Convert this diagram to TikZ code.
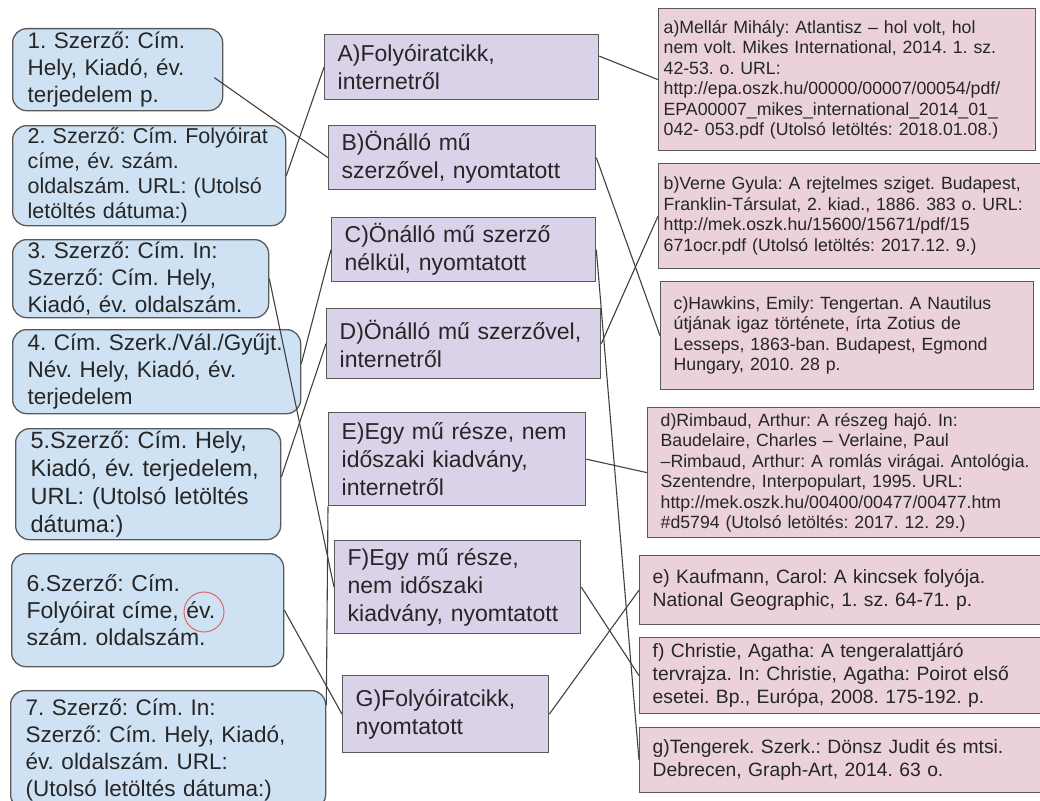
\documentclass[tikz,border=0pt]{standalone}
\usepackage{fontspec}
\setmainfont{Liberation Sans}
\usepackage{xcolor}
\usepackage{tikz}
\definecolor{srcBlue}{HTML}{CFE2F3}
\definecolor{kindPurple}{HTML}{D9D2E9}
\definecolor{refPink}{HTML}{EAD1DC}
\definecolor{edgeGray}{HTML}{595959}
\definecolor{lineGray}{HTML}{404040}
\definecolor{ringRed}{HTML}{E06666}
\frenchspacing
\hyphenpenalty=10000
\exhyphenpenalty=10000

\begin{document}
\begin{tikzpicture}[x=1pt,y=-1pt,semithick]
  \tikzstyle{box}=[anchor=north west,draw=edgeGray,line width=1.3pt,align=left,inner ysep=0pt,text=black!85]
  \tikzstyle{src}=[box,fill=srcBlue,rounded corners=14pt,inner xsep=15pt,font=\fontsize{22.5}{27}\selectfont]
  \tikzstyle{kind}=[box,fill=kindPurple,inner xsep=13pt,font=\fontsize{23}{28}\selectfont]
  \tikzstyle{ref}=[box,fill=refPink,inner xsep=13pt,font=\fontsize{17.7}{20.5}\selectfont]
  \tikzstyle{link}=[draw=lineGray,line width=1.1pt]
  \tikzstyle{ring}=[circle,draw=ringRed,line width=1pt,minimum size=40pt,inner sep=0pt]

  \useasboundingbox (0,0) rectangle (1040,800);

  % citation patterns
  \node[src, text width=180pt, minimum height=82pt]  (1) at (12,28)  {1. Szerző: Cím.\\Hely, Kiadó, év.\\terjedelem p.};
  \node[src, text width=243pt, minimum height=100pt, font=\fontsize{21.5}{25}\selectfont] (2) at (12,125) {2. Szerző: Cím. Folyóirat\\címe, év. szám.\\oldalszám. URL: (Utolsó\\letöltés dátuma:)};
  \node[src, text width=226pt, minimum height=78pt]  (3) at (12,239) {3. Szerző: Cím. In:\\Szerző: Cím. Hely,\\Kiadó, év. oldalszám.};
  \node[src, text width=258pt, minimum height=84pt]  (4) at (12,329) {4. Cím. Szerk./Vál./Gyűjt.\\Név. Hely, Kiadó, év.\\terjedelem};
  \node[src, text width=235pt, minimum height=111pt, font=\fontsize{23.5}{28}\selectfont] (5) at (15,428) {5.Szerző: Cím. Hely,\\Kiadó, év. terjedelem,\\URL: (Utolsó letöltés\\dátuma:)};
  \node[src, text width=242pt, minimum height=113pt, font=\fontsize{23}{27}\selectfont] (6) at (11,553) {6.Szerző: Cím.\\Folyóirat címe, év.\\szám. oldalszám.};
  \node[src, text width=285pt, minimum height=118pt] (7) at (10,690) {7. Szerző: Cím. In:\\Szerző: Cím. Hely, Kiadó,\\év. oldalszám. URL:\\(Utolsó letöltés dátuma:)};

  \node[ring] (ring) at (204,612) {};

  % document types
  \node[kind, text width=248pt, minimum height=65pt] (A) at (324,34)  {A)Folyóiratcikk,\\internetről};
  \node[kind, text width=241pt, minimum height=64pt] (B) at (328,125) {B)Önálló mű\\szerzővel, nyomtatott};
  \node[kind, text width=238pt, minimum height=64pt] (C) at (331,217) {C)Önálló mű szerző\\nélkül, nyomtatott};
  \node[kind, text width=248pt, minimum height=70pt] (D) at (326,308) {D)Önálló mű szerzővel,\\internetről};
  \node[kind, text width=231pt, minimum height=93pt] (E) at (328,412) {E)Egy mű része, nem\\időszaki kiadvány,\\internetről};
  \node[kind, text width=220pt, minimum height=93pt] (F) at (334,540) {F)Egy mű része,\\nem időszaki\\kiadvány, nyomtatott};
  \node[kind, text width=180pt, minimum height=77pt] (G) at (342,675) {G)Folyóiratcikk,\\nyomtatott};

  % examples
  \node[ref, inner xsep=5pt, text width=367pt, minimum height=142pt] (a) at (658,8) {a)Mellár Mihály: Atlantisz -- hol volt, hol\\nem volt. Mikes International, 2014. 1. sz.\\42-53. o. URL:\\http://epa.oszk.hu/00000/00007/00054/pdf/\\EPA00007\_mikes\_international\_2014\_01\_\\042- 053.pdf (Utolsó letöltés: 2018.01.08.)};
  \node[ref, inner xsep=5pt, text width=374pt, minimum height=105pt] (b) at (658,163) {b)Verne Gyula: A rejtelmes sziget. Budapest,\\Franklin-Társulat, 2. kiad., 1886. 383 o. URL:\\http://mek.oszk.hu/15600/15671/pdf/15\\671ocr.pdf (Utolsó letöltés: 2017.12. 9.)};
  \node[ref, text width=347pt, minimum height=108pt] (c) at (660,281) {c)Hawkins, Emily: Tengertan. A Nautilus\\útjának igaz története, írta Zotius de\\Lesseps, 1863-ban. Budapest, Egmond\\Hungary, 2010. 28 p.};
  \node[ref, text width=374pt, minimum height=130pt] (d) at (647,407) {d)Rimbaud, Arthur: A részeg hajó. In:\\Baudelaire, Charles -- Verlaine, Paul\\--Rimbaud, Arthur: A romlás virágai. Antológia.\\Szentendre, Interpopulart, 1995. URL:\\http://mek.oszk.hu/00400/00477/00477.htm\\\#d5794 (Utolsó letöltés: 2017. 12. 29.)};
  \node[ref, text width=377pt, minimum height=69pt, font=\fontsize{19.3}{23}\selectfont] (e) at (639,555) {e) Kaufmann, Carol: A kincsek folyója.\\National Geographic, 1. sz. 64-71. p.};
  \node[ref, text width=377pt, minimum height=76pt, font=\fontsize{19.3}{23}\selectfont] (f) at (639,637) {f) Christie, Agatha: A tengeralattjáró\\tervrajza. In: Christie, Agatha: Poirot első\\esetei. Bp., Európa, 2008. 175-192. p.};
  \node[ref, text width=377pt, minimum height=65pt, font=\fontsize{19.3}{23}\selectfont] (g) at (639,727) {g)Tengerek. Szerk.: Dönsz Judit és mtsi.\\Debrecen, Graph-Art, 2014. 63 o.};

  % pattern -- type
  \path ([xshift=-9pt,yshift=-8pt]1.east) edge[link] (B.west);
  \path (2.east) edge[link] (A.west);
  \path (3.east) edge[link] (F.west);
  \path ([yshift=8pt]4.east) edge[link] (C.west);
  \path ([yshift=7pt]5.east) edge[link] (D.west);
  \path (6.east) edge[link] (G.west);
  \path ([yshift=-15pt]7.north east) edge[link] (E.south west);

  % type -- example
  \path ([yshift=11pt]A.east) edge[link] (a.west);
  \path (B.east) edge[link] (c.west);
  \path (D.east) edge[link] (b.west);
  \path (C.east) edge[link] (g.west);
  \path (E.east) edge[link] (d.west);
  \path (F.east) edge[link] (f.west);
  \path (G.east) edge[link] (e.west);
\end{tikzpicture}
\end{document}
